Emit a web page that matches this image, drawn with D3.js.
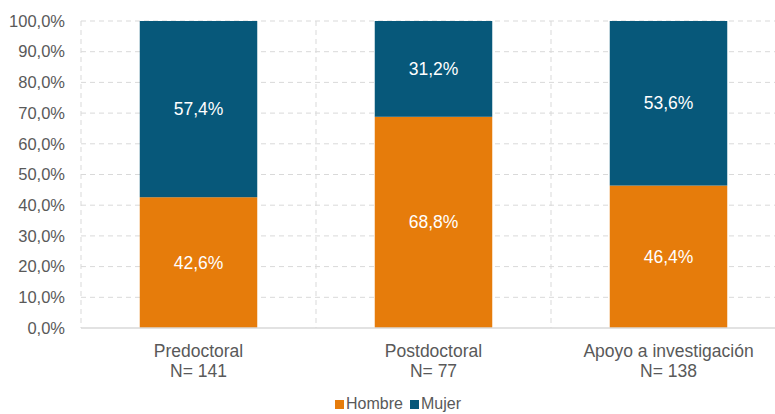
<!DOCTYPE html>
<html><head><meta charset="utf-8">
<script src="https://cdn.jsdelivr.net/npm/d3@7"></script>
<style>body{margin:0;background:#fff}svg{display:block}text{font-family:"Liberation Sans",Arial,sans-serif}</style>
</head><body><svg id="c" width="775" height="414"></svg>
<script>
const categories = ["Predoctoral", "Postdoctoral", "Apoyo a investigación"];
const counts = ["N= 141", "N= 77", "N= 138"];
const hombre = [42.6, 68.8, 46.4];
const mujer = [57.4, 31.2, 53.6];
const seriesNames = ["Hombre", "Mujer"];
const colors = ["#E67C0B", "#07587A"];
const yTicks = [0,10,20,30,40,50,60,70,80,90,100];

const svg = d3.select("#c");
const m = {l: 81, r: 786, t: 21, b: 328};
const x = d3.scaleBand().domain(categories).range([m.l, m.r]).paddingInner(0.5).paddingOuter(0.25);
const xOuter = d3.scaleBand().domain(categories).range([m.l, m.r]).padding(0);
const y = d3.scaleLinear().domain([0, 100]).range([m.b, m.t]);
const fmt = v => d3.format(".1f")(v).replace(".", ",") + "%";

// grid
svg.append("g").selectAll("line").data(yTicks.filter(d => d > 0)).join("line")
  .attr("x1", m.l).attr("x2", m.r).attr("y1", d => y(d)).attr("y2", d => y(d))
  .attr("stroke", "#d9d9d9").attr("stroke-dasharray", "5,4").attr("stroke-width", 1);
svg.append("g").selectAll("line").data(categories).join("line")
  .attr("x1", d => xOuter(d)).attr("x2", d => xOuter(d)).attr("y1", m.t).attr("y2", m.b)
  .attr("stroke", "#d9d9d9").attr("stroke-dasharray", "5,4").attr("stroke-width", 1);

// y axis labels
const yAxis = d3.axisLeft(y).tickValues(yTicks).tickSize(0).tickPadding(16).tickFormat(d => fmt(d));
const ya = svg.append("g").attr("transform", `translate(${m.l},0)`).call(yAxis);
ya.select(".domain").remove();
ya.selectAll("text").attr("fill", "#595959").style("font-size", "16.5px").style("font-family", '"Liberation Sans",Arial,sans-serif');

// bars
const stack = categories.map((c, i) => ({c, vals: [hombre[i], mujer[i]]}));
stack.forEach(s => {
  let acc = 0;
  s.vals.forEach((v, k) => {
    svg.append("rect").attr("x", x(s.c)).attr("width", x.bandwidth())
      .attr("y", y(acc + v)).attr("height", y(acc) - y(acc + v)).attr("fill", colors[k]);
    svg.append("text").attr("x", x(s.c) + x.bandwidth()/2).attr("y", y(acc + v/2))
      .attr("text-anchor", "middle").attr("dominant-baseline", "central")
      .attr("fill", "#fff").style("font-size", "17.5px").text(fmt(v));
    acc += v;
  });
});

// baseline
svg.append("line").attr("x1", m.l).attr("x2", m.r).attr("y1", y(0)).attr("y2", y(0))
  .attr("stroke", "#d9d9d9").attr("stroke-width", 1.5);

// x labels
const xl = svg.append("g");
categories.forEach((c, i) => {
  const cx = x(c) + x.bandwidth()/2;
  xl.append("text").attr("x", cx).attr("y", 357).attr("text-anchor", "middle")
    .attr("fill", "#595959").style("font-size", "17.5px").text(c);
  xl.append("text").attr("x", cx).attr("y", 377).attr("text-anchor", "middle")
    .attr("fill", "#595959").style("font-size", "17.5px").text(counts[i]);
});

// legend
const lg = svg.append("g");
const legendX = [335, 410];
seriesNames.forEach((n, k) => {
  lg.append("rect").attr("x", legendX[k]).attr("y", 400).attr("width", 9).attr("height", 9).attr("fill", colors[k]);
  lg.append("text").attr("x", legendX[k] + 11).attr("y", 409).attr("fill", "#595959")
    .style("font-size", "16px").text(n);
});
</script></body></html>
